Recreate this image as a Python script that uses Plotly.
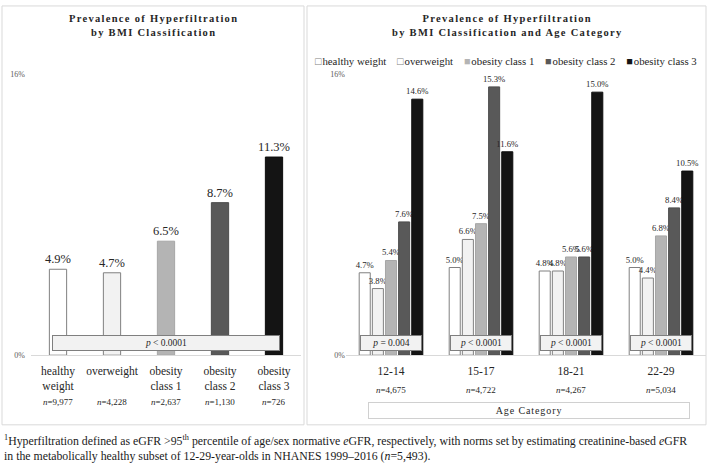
import plotly.graph_objects as go

# data
bmi_classes = ["healthy weight", "overweight", "obesity class 1", "obesity class 2", "obesity class 3"]
bmi_ticks = ["healthy<br>weight", "overweight", "obesity<br>class 1", "obesity<br>class 2", "obesity<br>class 3"]
overall_prev = [4.9, 4.7, 6.5, 8.7, 11.3]
overall_n = ["9,977", "4,228", "2,637", "1,130", "726"]
overall_p = "p < 0.0001"

age_groups = ["12-14", "15-17", "18-21", "22-29"]
age_n = ["4,675", "4,722", "4,267", "5,034"]
age_p = ["p = 0.004", "p < 0.0001", "p < 0.0001", "p < 0.0001"]
prev_healthy = [4.7, 5.0, 4.8, 5.0]
prev_over = [3.8, 6.6, 4.8, 4.4]
prev_ob1 = [5.4, 7.5, 5.6, 6.8]
prev_ob2 = [7.6, 15.3, 5.6, 8.4]
prev_ob3 = [14.6, 11.6, 15.0, 10.5]

fills = ["#ffffff", "#f2f2f2", "#b4b4b4", "#595959", "#141414"]
edges = ["#808080", "#808080", "#a6a6a6", "#4d4d4d", "#0d0d0d"]
legend_marks = ["\u25a1", "\u25a1", "\u25a0", "\u25a0", "\u25a0"]
legend_mark_colors = ["#808080", "#808080", "#b4b4b4", "#595959", "#141414"]

SERIF = "Liberation Serif"
W, H = 709, 472


def px(x):
    return x / W


def py(y):
    return 1 - y / H


def spaced(s, sp):
    return f'<span style="letter-spacing:{sp}px">{s}</span>'


fig = go.Figure()

# left panel: one bar per BMI class
fig.add_trace(go.Bar(
    x=bmi_classes, y=overall_prev, xaxis="x", yaxis="y", width=0.32,
    marker=dict(color=fills, line=dict(color=edges, width=1)),
    text=[f"{v:.1f}%" for v in overall_prev], textposition="outside", constraintext="none",
    textfont=dict(family=SERIF, size=12.5, color="#262626"),
    cliponaxis=False, showlegend=False, hoverinfo="skip",
))

# right panel: grouped by age
series = [prev_healthy, prev_over, prev_ob1, prev_ob2, prev_ob3]
for name, vals, fc, lc in zip(bmi_classes, series, fills, edges):
    fig.add_trace(go.Bar(
        x=age_groups, y=vals, name=name, xaxis="x2", yaxis="y2",
        marker=dict(color=fc, line=dict(color=lc, width=1)),
        text=[f"{v:.1f}%" for v in vals], textposition="outside", constraintext="none",
        textfont=dict(family=SERIF, size=8.7, color="#262626"),
        cliponaxis=False, showlegend=False,
    ))

yax = dict(range=[0, 16], tickvals=[0, 16], ticktext=["0%", "16%"], showgrid=True,
           gridcolor="#d9d9d9", zeroline=False, showline=False,
           tickfont=dict(family=SERIF, size=8, color="#595959"), fixedrange=True)
xax = dict(showline=True, linecolor="#d9d9d9", ticks="", showgrid=False, ticklabelstandoff=5,
           tickfont=dict(family=SERIF, size=11.5, color="#262626"))

fig.update_layout(
    width=W, height=H, margin=dict(l=0, r=0, t=0, b=0),
    paper_bgcolor="white", plot_bgcolor="white",
    font=dict(family=SERIF, color="#262626"),
    barmode="group", bargap=0.27, bargroupgap=0.16, showlegend=False,
    xaxis=dict(xax, domain=[px(31), px(301)], tickvals=bmi_classes, ticktext=bmi_ticks),
    yaxis=dict(yax, domain=[py(358), py(72)], ticklabelstandoff=5),
    xaxis2=dict(xax, domain=[px(346), px(706)], anchor="y2"),
    yaxis2=dict(yax, domain=[py(358), py(72)], anchor="x2"),
)

shapes = [
    dict(type="rect", xref="paper", yref="paper", x0=px(2), x1=px(304), y0=py(429), y1=py(2),
         line=dict(color="#d9d9d9", width=1)),
    dict(type="rect", xref="paper", yref="paper", x0=px(307), x1=px(706), y0=py(429), y1=py(2),
         line=dict(color="#d9d9d9", width=1)),
]
fig.update_layout(shapes=shapes)

ann = []
ann.append(dict(text="<b>" + spaced("Prevalence of Hyperfiltration", 1.3) + "<br>"
                + spaced("by BMI Classification", 1.3) + "</b>",
                x=px(153), y=py(22), xref="paper", yref="paper", xanchor="center", yanchor="middle",
                showarrow=False, font=dict(family=SERIF, size=10.5, color="#262626")))
ann.append(dict(text="<b>" + spaced("Prevalence of Hyperfiltration", 1.3) + "<br>"
                + spaced("by BMI Classification and Age Category", 1.3) + "</b>",
                x=px(507), y=py(22), xref="paper", yref="paper", xanchor="center", yanchor="middle",
                showarrow=False, font=dict(family=SERIF, size=10.5, color="#262626")))

# legend row for the right panel
legend_text = "\u2002\u2002".join(
    f'<span style="color:{c}">{m}</span>\u200a{name}'
    for m, c, name in zip(legend_marks, legend_mark_colors, bmi_classes))
ann.append(dict(text=legend_text, x=px(506), y=py(58), xref="paper", yref="paper",
                xanchor="center", yanchor="middle", showarrow=False,
                font=dict(family=SERIF, size=10.8, color="#262626")))

# p-value boxes
ann.append(dict(text="<i>p</i>" + overall_p[1:], x=bmi_classes[2], y=0.68, xref="x", yref="y",
                showarrow=False, width=224, height=12, bgcolor="#f2f2f2", bordercolor="#7f7f7f",
                borderwidth=1, font=dict(family=SERIF, size=9.5, color="#262626")))
for g, p in zip(age_groups, age_p):
    ann.append(dict(text="<i>p</i>" + p[1:], x=g, y=0.68, xref="x2", yref="y2",
                    showarrow=False, width=58, height=12, bgcolor="#f2f2f2", bordercolor="#7f7f7f",
                    borderwidth=1, font=dict(family=SERIF, size=9.5, color="#262626")))

# sample sizes
for c, n in zip(bmi_classes, overall_n):
    ann.append(dict(text=f"<i>n</i>={n}", x=c, y=py(406), xref="x", yref="paper",
                    xanchor="center", yanchor="middle",
                    showarrow=False, font=dict(family=SERIF, size=9, color="#262626")))
for g, n in zip(age_groups, age_n):
    ann.append(dict(text=f"<i>n</i>={n}", x=g, y=py(393), xref="x2", yref="paper",
                    xanchor="center", yanchor="middle",
                    showarrow=False, font=dict(family=SERIF, size=9, color="#262626")))

ann.append(dict(text=spaced("Age Category", 0.9), x=px(529), y=py(414), xref="paper", yref="paper",
                xanchor="center", yanchor="middle",
                showarrow=False, width=318, height=13, bgcolor="white", bordercolor="#d0d0d0",
                borderwidth=1, font=dict(family=SERIF, size=10, color="#262626")))

ann.append(dict(
    text="<sup>1</sup>Hyperfiltration defined as eGFR >95<sup>th</sup> percentile of age/sex normative "
         "<i>e</i>GFR, respectively, with norms set by estimating creatinine-based <i>e</i>GFR<br>"
         "in the metabolically healthy subset of 12-29-year-olds in NHANES 1999\u20132016 (<i>n</i>=5,493).",
    x=px(2), y=py(453), xref="paper", yref="paper", xanchor="left", yanchor="middle",
    align="left", showarrow=False, font=dict(family=SERIF, size=11.8, color="#1a1a1a")))

fig.update_layout(annotations=ann)

fig.write_html("out.html", config={"displayModeBar": False},
               post_script="document.body.style.margin='0';")
